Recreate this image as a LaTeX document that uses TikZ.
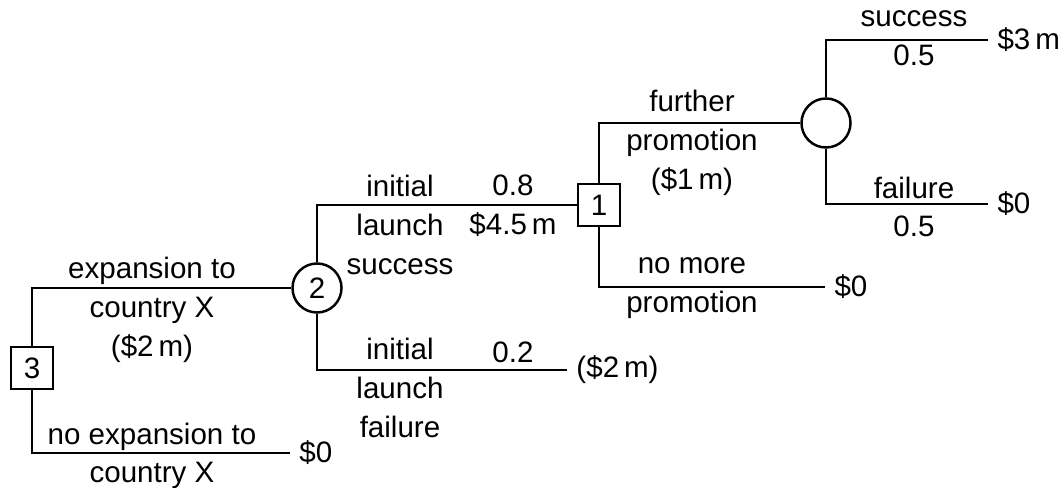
\documentclass[tikz,border=0pt]{standalone}
\usepackage{fontspec}
\setmainfont{Liberation Sans}
\begin{document}
\begin{tikzpicture}
    [x=0.01cm,y=-0.01cm,
     every node/.style={font=\fontsize{8.4}{11}\selectfont},
     dec/.style={shape=rectangle,draw=black,line width=0.7pt,minimum size=0.42cm,inner sep=0pt},
     chance/.style={shape=circle,draw=black,line width=0.7pt,minimum size=0.49cm,inner sep=0pt},
     pay/.style={anchor=west,inner sep=2.5pt},
     lbl/.style={align=center,inner sep=0pt},
     branch/.style={line width=0.7pt}]
    \useasboundingbox (0,0) rectangle (1060,488);
    \node [dec] (D3) at (32,368) {3};
    \node [chance] (C2) at (317,288) {2};
    \node [dec] (D1) at (599,205) {1};
    \node [chance] (Cp) at (826,123) {};
    \node [pay] (P3) at (290,453) {\$0};
    \node [pay] (P2) at (567,370) {(\$2\,m)};
    \node [pay] (P1) at (825,287) {\$0};
    \node [pay] (Ps) at (988,40) {\$3\,m};
    \node [pay] (Pf) at (988,204) {\$0};
    \draw [branch] (D3.north) |- (C2.west);
    \draw [branch] (D3.south) |- (P3.west);
    \draw [branch] (C2.north) |- (D1.west);
    \draw [branch] (C2.south) |- (P2.west);
    \draw [branch] (D1.north) |- (Cp.west);
    \draw [branch] (D1.south) |- (P1.west);
    \draw [branch] (Cp.north) |- (Ps.west);
    \draw [branch] (Cp.south) |- (Pf.west);
    % branch labels
    \node [lbl] (L3a) at (152,310) {expansion to\\country X\\(\$2\,m)};
    \node [lbl] (L3b) at (152,456) {no expansion to\\country X};
    \node [lbl] (L2a) at (400,225) {initial\\launch\\success};
    \node [lbl] (Q2a) at (513,206) {0.8\\\$4.5\,m};
    \node [lbl] (L2b) at (400,388) {initial\\launch\\failure};
    \node [lbl] (Q2b) at (513,352) {0.2};
    \node [lbl] (L1a) at (692,143) {further\\promotion\\(\$1\,m)};
    \node [lbl] (L1b) at (692,288) {no more\\promotion};
    \node [lbl] (Lps) at (914,38) {success\\0.5};
    \node [lbl] (Lpf) at (914,207) {failure\\0.5};
\end{tikzpicture}
\end{document}
